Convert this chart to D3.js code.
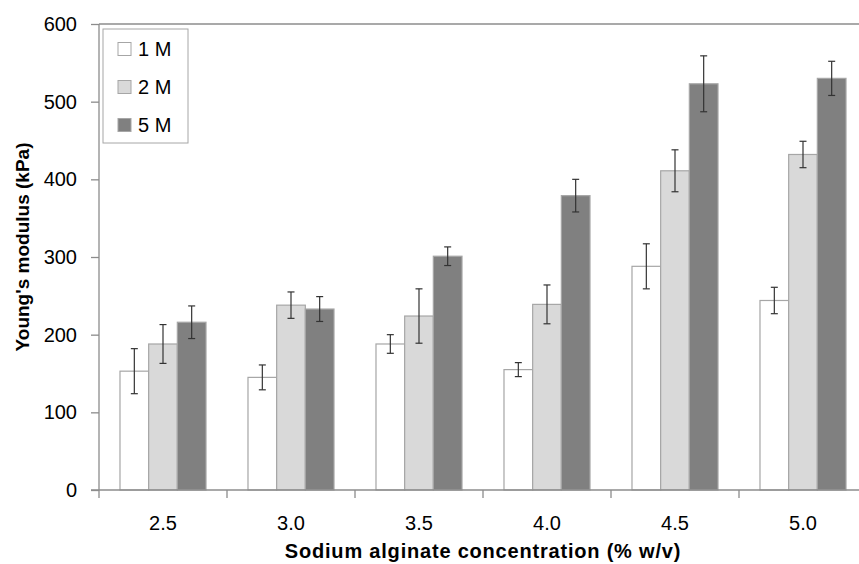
<!DOCTYPE html>
<html>
<head>
<meta charset="utf-8">
<script src="https://cdn.jsdelivr.net/npm/d3@7"></script>
<style>
  body { margin: 0; background: #fff; }
  svg { display: block; }
  text { font-family: "Liberation Sans", Arial, sans-serif; fill: #000; }
</style>
</head>
<body>
<script>
// data
var categories = ["2.5", "3.0", "3.5", "4.0", "4.5", "5.0"];
var seriesNames = ["1 M", "2 M", "5 M"];
var values1M = [153, 145, 188, 155, 288, 244];
var values2M = [188, 238, 224, 239, 411, 432];
var values5M = [216, 233, 301, 379, 523, 530];
var errors1M = [29, 16, 12, 9, 29, 17];
var errors2M = [25, 17, 35, 25, 27, 17];
var errors5M = [21, 16, 12, 21, 36, 22];
var yTicks = [0, 100, 200, 300, 400, 500, 600];

var colors = ["#ffffff", "#d9d9d9", "#808080"];

var svgWidth = 859;
var svgHeight = 564;
var margin = { top: 24, left: 99 };
var width = 768;   // plot runs past the right edge of the picture
var height = 466;

var svg = d3.select("body")
  .append("svg")
  .attr("width", svgWidth)
  .attr("height", svgHeight);

var chartGroup = svg.append("g")
  .attr("transform", `translate(${margin.left}, ${margin.top})`);

// build rows from the arrays
var allValues = [values1M, values2M, values5M];
var allErrors = [errors1M, errors2M, errors5M];
var data = categories.map(function(c, i) {
  return {
    cat: c,
    bars: seriesNames.map(function(s, j) {
      return { name: s, value: allValues[j][i], err: allErrors[j][i], color: colors[j] };
    })
  };
});

var x0 = d3.scaleBand().domain(categories).range([0, width])
  .paddingInner(0.328).paddingOuter(0.164);
var x1 = d3.scaleBand().domain(seriesNames).range([0, x0.bandwidth()]);
var y = d3.scaleLinear().domain([0, 600]).range([height, 0]);

// top border line
chartGroup.append("line")
  .attr("x1", 0).attr("x2", width)
  .attr("y1", y(600)).attr("y2", y(600))
  .attr("stroke", "#8c8c8c").attr("stroke-width", 1.3);

// bars
var groups = chartGroup.selectAll(".group")
  .data(data)
  .enter()
  .append("g")
  .attr("class", "group")
  .attr("transform", d => `translate(${x0(d.cat)},0)`);

groups.selectAll("rect")
  .data(d => d.bars)
  .enter()
  .append("rect")
  .attr("x", d => x1(d.name))
  .attr("y", d => y(d.value))
  .attr("width", x1.bandwidth())
  .attr("height", d => height - y(d.value))
  .attr("fill", d => d.color)
  .attr("stroke", "#a6a6a6")
  .attr("stroke-width", 1.2);

// error bars
var errG = groups.selectAll(".err")
  .data(d => d.bars)
  .enter()
  .append("g")
  .attr("class", "err")
  .attr("stroke", "#333")
  .attr("stroke-width", 1.2);

errG.append("line")
  .attr("x1", d => x1(d.name) + x1.bandwidth() / 2)
  .attr("x2", d => x1(d.name) + x1.bandwidth() / 2)
  .attr("y1", d => y(d.value + d.err))
  .attr("y2", d => y(d.value - d.err));
errG.append("line")
  .attr("x1", d => x1(d.name) + x1.bandwidth() / 2 - 3.5)
  .attr("x2", d => x1(d.name) + x1.bandwidth() / 2 + 3.5)
  .attr("y1", d => y(d.value + d.err))
  .attr("y2", d => y(d.value + d.err));
errG.append("line")
  .attr("x1", d => x1(d.name) + x1.bandwidth() / 2 - 3.5)
  .attr("x2", d => x1(d.name) + x1.bandwidth() / 2 + 3.5)
  .attr("y1", d => y(d.value - d.err))
  .attr("y2", d => y(d.value - d.err));

// axes
var leftAxis = d3.axisLeft(y).tickValues(yTicks).tickSize(8).tickPadding(14);
var yAxisG = chartGroup.append("g").call(leftAxis);
yAxisG.select(".domain").attr("d", `M0,${y(600)}V${height + 8}`);

var bottomAxis = d3.axisBottom(x0).tickSize(0).tickPadding(26);
var xAxisG = chartGroup.append("g")
  .attr("transform", `translate(0, ${height})`)
  .call(bottomAxis);
xAxisG.select(".domain").attr("d", `M-8,0H${width}`);

// category boundary ticks
xAxisG.selectAll(".sep")
  .data(categories)
  .enter()
  .append("line")
  .attr("class", "sep")
  .attr("x1", d => x0(d) + x0.bandwidth() / 2 + x0.step() / 2)
  .attr("x2", d => x0(d) + x0.bandwidth() / 2 + x0.step() / 2)
  .attr("y1", 0).attr("y2", 8);

svg.selectAll(".domain, .tick line, .sep")
  .attr("stroke", "#8c8c8c").attr("stroke-width", 1.3);
svg.selectAll(".tick text")
  .attr("font-size", "20px")
  .attr("font-family", "'Liberation Sans', Arial, sans-serif")
  .attr("fill", "#000");

// axis titles
svg.append("text")
  .attr("transform", `translate(29, 247) rotate(-90)`)
  .attr("text-anchor", "middle")
  .attr("font-size", "19px")
  .attr("font-weight", "bold")
  .text("Young's modulus (kPa)");

svg.append("text")
  .attr("x", 483)
  .attr("y", 558)
  .attr("text-anchor", "middle")
  .attr("font-size", "20px")
  .attr("letter-spacing", "0.8px")
  .attr("font-weight", "bold")
  .text("Sodium alginate concentration (% w/v)");

// legend
var legend = svg.append("g").attr("transform", "translate(103, 29)");
legend.append("rect")
  .attr("width", 85).attr("height", 114)
  .attr("fill", "#fff").attr("stroke", "#a6a6a6").attr("stroke-width", 1);

var items = legend.selectAll(".item")
  .data(seriesNames)
  .enter()
  .append("g")
  .attr("class", "item")
  .attr("transform", (d, i) => `translate(15, ${20 + i * 38})`);

items.append("rect")
  .attr("y", -6.5)
  .attr("width", 13).attr("height", 13)
  .attr("fill", (d, i) => colors[i])
  .attr("stroke", "#a6a6a6").attr("stroke-width", 1);

items.append("text")
  .attr("x", 20)
  .attr("y", 7)
  .attr("font-size", "20px")
  .text(d => d);
</script>
</body>
</html>
